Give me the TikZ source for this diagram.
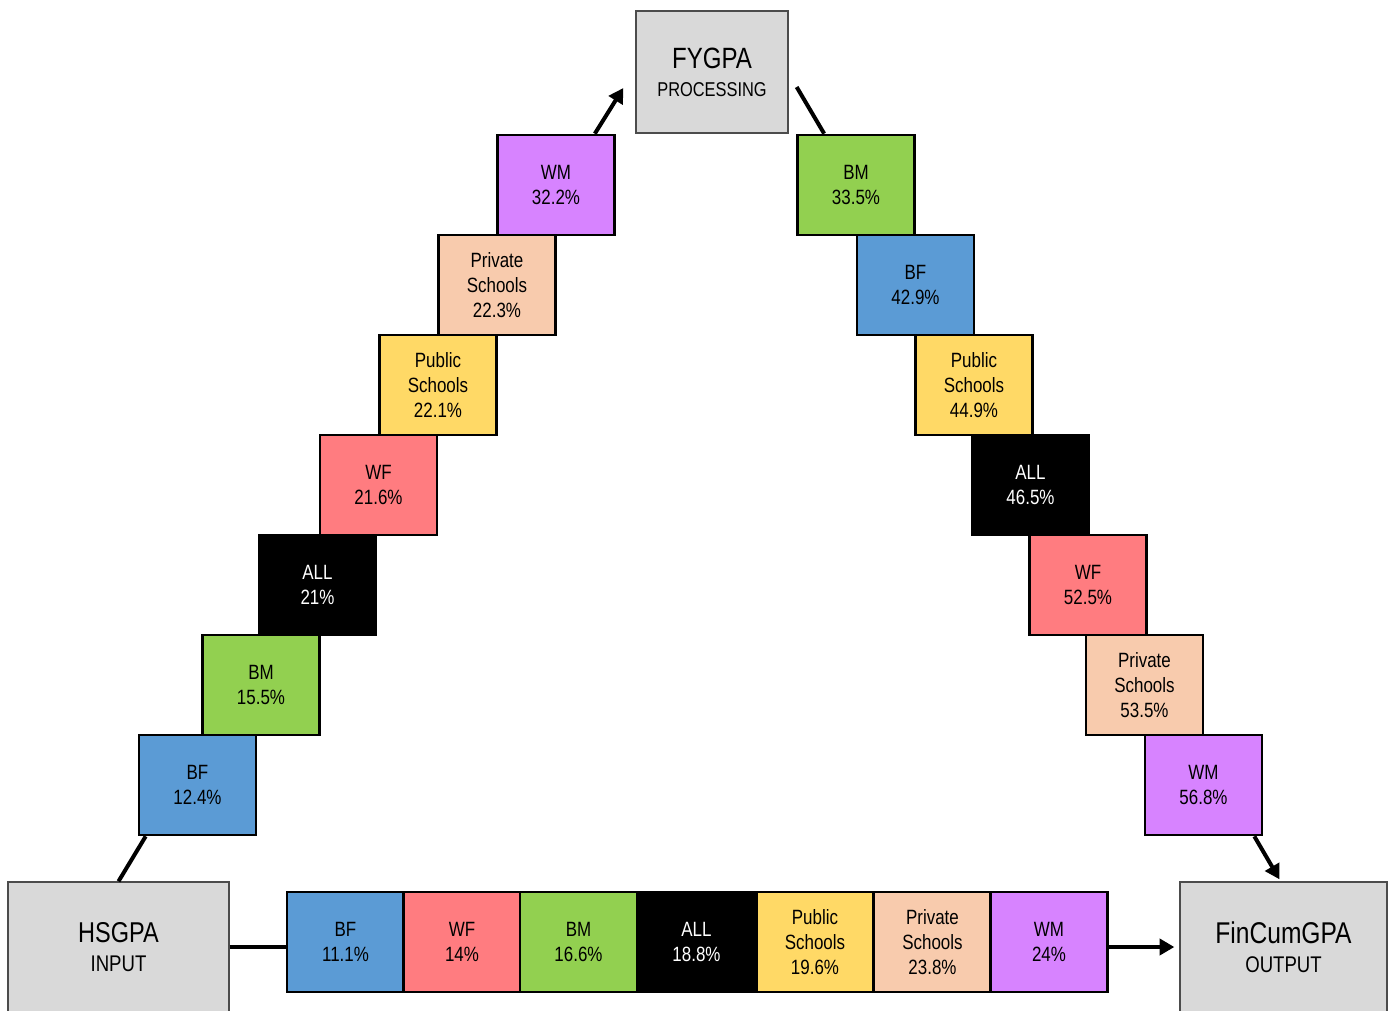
\documentclass[tikz,border=0pt]{standalone}
\usepackage{fontspec}
\setmainfont[FakeStretch=0.82]{Liberation Sans}
\usetikzlibrary{arrows.meta,calc}
\definecolor{cBF}{HTML}{5B9BD5}
\definecolor{cWF}{HTML}{FF7C80}
\definecolor{cBM}{HTML}{92D050}
\definecolor{cPub}{HTML}{FFD966}
\definecolor{cPriv}{HTML}{F8CBAD}
\definecolor{cWM}{HTML}{D783FF}
\definecolor{stagegray}{HTML}{D9D9D9}

\begin{document}
\begin{tikzpicture}[x=0.75pt, y=-0.75pt,
    cell/.style={draw, line width=2pt, align=center, inner sep=0pt, minimum width=87.75pt, minimum height=75pt, font=\fontsize{15.5}{18.5}\selectfont},
    stage/.style={draw=black!70, line width=1pt, fill=stagegray, align=center, inner sep=0pt, font=\fontsize{17}{22}\selectfont},
    line/.style={line width=3pt},
    arrow/.style={line width=3pt, -{Triangle[length=11pt,width=12pt]}}
]
\useasboundingbox (0,0) rectangle (1395,1010);

% stages
\node[stage, minimum width=114pt, minimum height=91.5pt, font=\fontsize{15}{21}\selectfont] (fygpa) at (712,72) {{\fontsize{22}{21}\selectfont FYGPA}\\PROCESSING};
\node[stage, minimum width=165.75pt, minimum height=97.5pt] (hsgpa) at (118.5,947) {{\fontsize{21.5}{23}\selectfont HSGPA}\\INPUT};
\node[stage, minimum width=155.25pt, minimum height=97.5pt] (fincum) at (1283.5,947) {{\fontsize{22.5}{23}\selectfont FinCumGPA}\\OUTPUT};

% left side: HSGPA to FYGPA
\node[cell, fill=cBF] (lbf) at (197.5,785) {BF\\12.4\%};
\node[cell, fill=cBM] (lbm) at (261,685) {BM\\15.5\%};
\node[cell, fill=black, text=white] (lall) at (317.5,585) {ALL\\21\%};
\node[cell, fill=cWF] (lwf) at (378.5,485) {WF\\21.6\%};
\node[cell, fill=cPub] (lpub) at (438,385) {Public\\Schools\\22.1\%};
\node[cell, fill=cPriv] (lpriv) at (497,285) {Private\\Schools\\22.3\%};
\node[cell, fill=cWM] (lwm) at (556,185) {WM\\32.2\%};

% right side: FYGPA to FinCumGPA
\node[cell, fill=cBM] (rbm) at (856,185) {BM\\33.5\%};
\node[cell, fill=cBF] (rbf) at (915.5,285) {BF\\42.9\%};
\node[cell, fill=cPub] (rpub) at (974,385) {Public\\Schools\\44.9\%};
\node[cell, fill=black, text=white] (rall) at (1030.5,485) {ALL\\46.5\%};
\node[cell, fill=cWF] (rwf) at (1088,585) {WF\\52.5\%};
\node[cell, fill=cPriv] (rpriv) at (1144.5,685) {Private\\Schools\\53.5\%};
\node[cell, fill=cWM] (rwm) at (1203.5,785) {WM\\56.8\%};

% bottom: HSGPA to FinCumGPA
\node[cell, fill=cBF] (bbf) at (345.5,942) {BF\\11.1\%};
\node[cell, fill=cWF] (bwf) at (462,942) {WF\\14\%};
\node[cell, fill=cBM] (bbm) at (578.5,942) {BM\\16.6\%};
\node[cell, fill=black, text=white] (ball) at (696.5,942) {ALL\\18.8\%};
\node[cell, fill=cPub] (bpub) at (815,942) {Public\\Schools\\19.6\%};
\node[cell, fill=cPriv] (bpriv) at (932.5,942) {Private\\Schools\\23.8\%};
\node[cell, fill=cWM] (bwm) at (1049,942) {WM\\24\%};

% connectors
\draw[line] (hsgpa.north) -- ($(lbf.south west)+(8,0)$);
\draw[arrow] ($(lwm.north east)+(-21,0)$) -- ($(fygpa.west)+(-12,16)$);
\draw[line] ($(fygpa.east)+(8,15)$) -- ($(rbm.north west)+(28,0)$);
\draw[arrow] ($(rwm.south east)+(-9,0)$) -- ($(fincum.north)+(-4,-2)$);
\draw[line] (hsgpa.east) -- (hsgpa.east -| bbf.west);
\draw[arrow] (bwm.east |- fincum.west) -- ($(fincum.west)+(-5,0)$);
\end{tikzpicture}
\end{document}
